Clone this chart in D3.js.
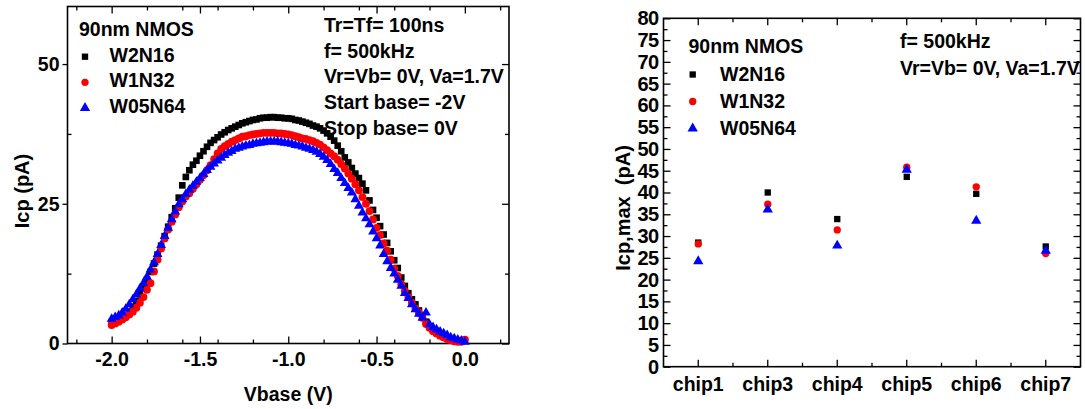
<!DOCTYPE html>
<html>
<head>
<meta charset="utf-8">
<script src="https://cdn.jsdelivr.net/npm/d3@7"></script>
<style>
  html, body { margin: 0; padding: 0; background: #fff; }
  svg { display: block; font-family: "Liberation Sans", Arial, sans-serif; font-weight: bold; }
  text { white-space: pre; }
</style>
</head>
<body>
<svg id="fig" width="1085" height="409"></svg>
<script>
// ---- Charge-pumping sweep: Icp versus base voltage ----
const vbase = [-2.00,-1.98,-1.96,-1.94,-1.92,-1.90,-1.88,-1.86,-1.84,-1.82,
  -1.80,-1.78,-1.76,-1.74,-1.72,-1.70,-1.68,-1.66,-1.64,-1.62,
  -1.60,-1.58,-1.56,-1.54,-1.52,-1.50,-1.48,-1.46,-1.44,-1.42,
  -1.40,-1.38,-1.36,-1.34,-1.32,-1.30,-1.28,-1.26,-1.24,-1.22,
  -1.20,-1.18,-1.16,-1.14,-1.12,-1.10,-1.08,-1.06,-1.04,-1.02,
  -1.00,-0.98,-0.96,-0.94,-0.92,-0.90,-0.88,-0.86,-0.84,-0.82,
  -0.80,-0.78,-0.76,-0.74,-0.72,-0.70,-0.68,-0.66,-0.64,-0.62,
  -0.60,-0.58,-0.56,-0.54,-0.52,-0.50,-0.48,-0.46,-0.44,-0.42,
  -0.40,-0.38,-0.36,-0.34,-0.32,-0.30,-0.28,-0.26,-0.24,-0.22,
  -0.20,-0.18,-0.16,-0.14,-0.12,-0.10,-0.08,-0.06,-0.04,-0.02,
  0.00];

const icpW2N16 = [3.6,3.8,4.1,4.5,5.0,5.7,6.6,7.6,8.8,10.0,
  11.4,12.8,14.3,15.9,17.5,19.2,20.9,22.6,24.2,26.1,
  28.3,29.8,31.0,32.0,32.7,33.6,34.4,35.2,35.9,36.4,
  36.9,37.4,37.8,38.2,38.5,38.8,39.1,39.4,39.6,39.8,
  40.0,40.1,40.3,40.4,40.4,40.5,40.5,40.4,40.4,40.3,
  40.3,40.2,40.0,39.9,39.7,39.5,39.3,39.0,38.8,38.5,
  38.1,37.6,37.0,36.3,35.4,34.4,33.3,32.4,31.4,30.4,
  29.6,28.6,27.4,25.6,23.9,22.5,21.0,19.5,18.0,16.5,
  14.9,13.5,11.8,10.3,9.0,7.9,7.0,5.9,4.9,3.9,
  3.0,2.4,1.9,1.5,1.2,0.9,0.7,0.5,0.4,0.4,
  0.6];

const icpW1N32 = [3.3,3.6,3.9,4.3,4.7,5.2,5.7,6.4,7.3,8.3,
  9.6,10.8,12.9,15.0,17.0,18.8,20.4,21.8,23.1,24.4,
  25.4,26.3,26.9,27.7,28.5,29.3,30.1,31.0,31.9,33.0,
  34.0,34.8,35.3,35.7,36.1,36.4,36.7,37.0,37.1,37.3,
  37.4,37.5,37.6,37.7,37.7,37.7,37.7,37.6,37.6,37.5,
  37.4,37.3,37.1,36.9,36.7,36.6,36.4,36.2,35.9,35.6,
  35.1,34.6,34.0,33.5,32.9,32.1,31.3,30.4,29.5,28.5,
  27.4,26.2,25.0,23.7,22.2,20.7,19.4,17.9,16.6,15.0,
  13.4,12.1,10.6,9.4,8.3,7.3,6.3,5.5,4.6,3.5,
  2.8,2.2,1.8,1.4,1.1,0.8,0.6,0.4,0.3,0.3,
  0.7];

const icpW05N64 = [4.4,4.7,5.0,5.5,6.2,7.0,7.9,8.8,9.8,10.8,
  11.9,13.2,14.5,16.0,17.6,19.2,20.7,22.2,23.6,24.9,
  25.8,26.7,27.5,28.2,28.9,29.6,30.3,31.0,31.6,32.2,
  32.7,33.2,33.7,34.1,34.4,34.8,35.0,35.2,35.4,35.5,
  35.7,35.8,35.9,36.0,36.1,36.1,36.1,36.1,36.0,35.9,
  35.8,35.7,35.5,35.4,35.2,35.0,34.8,34.6,34.3,33.9,
  33.4,32.8,32.1,31.2,30.5,29.6,28.7,27.8,27.0,25.8,
  24.6,23.4,22.4,21.3,20.0,18.8,17.5,16.0,14.7,13.5,
  12.5,11.4,10.3,9.0,8.1,7.0,6.1,5.3,4.6,5.5,
  3.4,2.9,2.5,2.1,1.8,1.5,1.1,0.9,0.7,0.5,
  0.3];

// ---- Peak Icp per chip ----
const chips = ["chip1","chip3","chip4","chip5","chip6","chip7"];
const maxW2N16  = [28.5, 40.0, 33.9, 43.6, 39.7, 27.6];
const maxW1N32  = [28.2, 37.3, 31.4, 45.8, 41.3, 26.0];
const maxW05N64 = [24.2, 36.1, 27.8, 45.2, 33.5, 26.6];

const seriesNames = ["W2N16", "W1N32", "W05N64"];
const leftXTicks = [-2.0, -1.5, -1.0, -0.5, 0.0];
const leftYTicks = [0, 25, 50];
const rightYTicks = [0,5,10,15,20,25,30,35,40,45,50,55,60,65,70,75,80];

const leftNotes  = ["Tr=Tf= 100ns", "f= 500kHz", "Vr=Vb= 0V, Va=1.7V", "Start base= -2V", "Stop base= 0V"];
const rightNotes = ["f= 500kHz", "Vr=Vb= 0V, Va=1.7V"];

const styles = [
  { color: "#000000", symbol: d3.symbolSquare,   sizeL: 44, sizeR: 40 },
  { color: "#ff0000", symbol: d3.symbolCircle,   sizeL: 48, sizeR: 42 },
  { color: "#0000ff", symbol: d3.symbolTriangle, sizeL: 42, sizeR: 46 }
];

const svg = d3.select("#fig");
const FS = 19.5;
// plain hyphen-minus, one decimal
const fmt1 = d => d.toFixed(1);

function frame(g, x0, y0, x1, y1) {
  g.append("rect").attr("x", x0).attr("y", y0)
    .attr("width", x1 - x0).attr("height", y1 - y0)
    .attr("fill", "none").attr("stroke", "#000").attr("stroke-width", 1.6);
}

function styleAxis(sel, size) {
  sel.select(".domain").remove();
  sel.selectAll(".tick line").attr("stroke", "#000").attr("stroke-width", 1.3);
  sel.selectAll("text").attr("font-size", size || FS).attr("font-weight", "bold")
    .attr("font-family", "'Liberation Sans', Arial, sans-serif").attr("fill", "#000");
}

// ================= Left chart =================
{
  const L = { x0: 67.5, x1: 509, y0: 6.5, y1: 343.5 };
  const x = d3.scaleLinear().domain([-2.25, 0.25]).range([L.x0, L.x1]);
  const y = d3.scaleLinear().domain([0, 60.3]).range([L.y1, L.y0]);
  const g = svg.append("g");

  const minorX = x.ticks(10).filter(v => !leftXTicks.some(t => Math.abs(t - v) < 1e-9) && v > -2.25 && v < 0.25);
  const minorY = [12.5, 37.5];

  // bottom axis: inward ticks, labels below
  g.append("g").attr("transform", `translate(0,${L.y1})`)
    .call(d3.axisBottom(x).tickValues(leftXTicks).tickFormat(fmt1).tickSize(-7).tickPadding(9))
    .call(styleAxis);
  g.append("g").attr("transform", `translate(0,${L.y1})`)
    .call(d3.axisBottom(x).tickValues(minorX).tickFormat("").tickSize(-4))
    .call(styleAxis);
  // top axis mirrored
  g.append("g").attr("transform", `translate(0,${L.y0})`)
    .call(d3.axisTop(x).tickValues(leftXTicks).tickFormat("").tickSize(-7)).call(styleAxis);
  g.append("g").attr("transform", `translate(0,${L.y0})`)
    .call(d3.axisTop(x).tickValues(minorX).tickFormat("").tickSize(-4)).call(styleAxis);
  // left axis
  g.append("g").attr("transform", `translate(${L.x0},0)`)
    .call(d3.axisLeft(y).tickValues(leftYTicks).tickFormat(d3.format("d")).tickSize(5).tickPadding(3))
    .call(styleAxis);
  g.append("g").attr("transform", `translate(${L.x0},0)`)
    .call(d3.axisLeft(y).tickValues(minorY).tickFormat("").tickSize(-4)).call(styleAxis);
  // right axis mirrored
  g.append("g").attr("transform", `translate(${L.x1},0)`)
    .call(d3.axisRight(y).tickValues(leftYTicks).tickFormat("").tickSize(-7)).call(styleAxis);
  g.append("g").attr("transform", `translate(${L.x1},0)`)
    .call(d3.axisRight(y).tickValues(minorY).tickFormat("").tickSize(-4)).call(styleAxis);

  frame(g, L.x0, L.y0, L.x1, L.y1);

  // data markers
  const sets = [icpW2N16, icpW1N32, icpW05N64];
  sets.forEach((vals, k) => {
    const st = styles[k];
    g.append("g").selectAll("path").data(vbase.map((v, i) => [v, vals[i]])).join("path")
      .attr("transform", d => `translate(${x(d[0])},${y(d[1])})`)
      .attr("d", d3.symbol().type(st.symbol).size(st.sizeL)())
      .attr("fill", st.color);
  });

  // axis titles
  g.append("text").attr("x", (L.x0 + L.x1) / 2).attr("y", 401)
    .attr("text-anchor", "middle").attr("font-size", FS).text("Vbase (V)");
  g.append("text").attr("transform", `translate(28.5,${191}) rotate(-90)`)
    .attr("text-anchor", "middle").attr("font-size", 20).text("Icp (pA)");

  // legend
  g.append("text").attr("x", 79).attr("y", 36).attr("font-size", FS).text("90nm NMOS");
  seriesNames.forEach((name, k) => {
    const by = 61.7 + k * 25.6;
    g.append("path").attr("transform", `translate(85,${by - 5})`)
      .attr("d", d3.symbol().type(styles[k].symbol).size(styles[k].sizeR)())
      .attr("fill", styles[k].color);
    g.append("text").attr("x", 109.5).attr("y", by).attr("font-size", FS).text(name);
  });
  leftNotes.forEach((t, i) => {
    g.append("text").attr("x", 324).attr("y", 31.7 + i * 25.8).attr("font-size", FS).text(t);
  });
}

// ================= Right chart =================
{
  const R = { x0: 663.5, x1: 1080.5, y0: 18.3, y1: 366.7 };
  const x = d3.scaleBand().domain(chips).range([R.x0, R.x1]).paddingInner(0).paddingOuter(0);
  const cx = c => x(c) + x.bandwidth() / 2;
  const y = d3.scaleLinear().domain([0, 80]).range([R.y1, R.y0]);
  const g = svg.append("g");

  const minorY = rightYTicks.slice(0, -1).map(v => v + 2.5);
  const bounds = chips.slice(1).map(c => x(c));

  g.append("g").attr("transform", `translate(0,${R.y1})`)
    .call(d3.axisBottom(x).tickSize(-7).tickPadding(10)).call(styleAxis);
  g.append("g").attr("transform", `translate(0,${R.y1})`).call(g2 => {
    g2.selectAll("line").data(bounds).join("line")
      .attr("x1", d => d).attr("x2", d => d).attr("y1", 0).attr("y2", -4)
      .attr("stroke", "#000").attr("stroke-width", 1.3);
  });
  g.append("g").attr("transform", `translate(0,${R.y0})`)
    .call(d3.axisTop(x).tickFormat("").tickSize(-7)).call(styleAxis);
  g.append("g").attr("transform", `translate(0,${R.y0})`).call(g2 => {
    g2.selectAll("line").data(bounds).join("line")
      .attr("x1", d => d).attr("x2", d => d).attr("y1", 0).attr("y2", 4)
      .attr("stroke", "#000").attr("stroke-width", 1.3);
  });
  g.append("g").attr("transform", `translate(${R.x0},0)`)
    .call(d3.axisLeft(y).tickValues(rightYTicks).tickFormat(d3.format("d")).tickSize(-7).tickPadding(5))
    .call(s => styleAxis(s, 20))
    .selectAll("text").attr("letter-spacing", -0.6);
  g.append("g").attr("transform", `translate(${R.x0},0)`)
    .call(d3.axisLeft(y).tickValues(minorY).tickFormat("").tickSize(-4)).call(styleAxis);
  g.append("g").attr("transform", `translate(${R.x1},0)`)
    .call(d3.axisRight(y).tickValues(rightYTicks).tickFormat("").tickSize(-7)).call(styleAxis);
  g.append("g").attr("transform", `translate(${R.x1},0)`)
    .call(d3.axisRight(y).tickValues(minorY).tickFormat("").tickSize(-4)).call(styleAxis);

  frame(g, R.x0, R.y0, R.x1, R.y1);

  const sets = [maxW2N16, maxW1N32, maxW05N64];
  sets.forEach((vals, k) => {
    const st = styles[k];
    g.append("g").selectAll("path").data(chips.map((c, i) => [c, vals[i]])).join("path")
      .attr("transform", d => `translate(${cx(d[0])},${y(d[1])})`)
      .attr("d", d3.symbol().type(st.symbol).size(st.sizeR)())
      .attr("fill", st.color);
  });

  g.append("text").attr("transform", `translate(630,${208}) rotate(-90)`)
    .attr("text-anchor", "middle").attr("font-size", 20).text("Icp,max  (pA)");

  g.append("text").attr("x", 688.5).attr("y", 53.3).attr("font-size", FS).text("90nm NMOS");
  seriesNames.forEach((name, k) => {
    const by = 81 + k * 27;
    g.append("path").attr("transform", `translate(692.7,${by - 6.5})`)
      .attr("d", d3.symbol().type(styles[k].symbol).size(styles[k].sizeR)())
      .attr("fill", styles[k].color);
    g.append("text").attr("x", 720).attr("y", by).attr("font-size", FS).text(name);
  });
  rightNotes.forEach((t, i) => {
    g.append("text").attr("x", 900).attr("y", 48.3 + i * 26.7).attr("font-size", FS).text(t);
  });
}
</script>
</body>
</html>
